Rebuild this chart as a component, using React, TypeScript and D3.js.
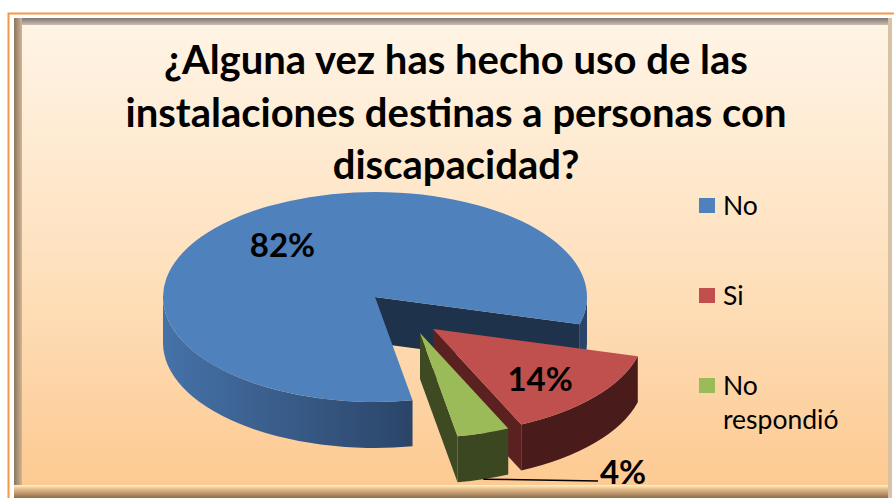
import React from 'react';
import * as d3 from 'd3';

const categories = ['No', 'Si', 'No respondió'];
const values = [82, 14, 4];
const labelTexts = ['82%', '14%', '4%'];
const titleLines = [
  '¿Alguna vez has hecho uso de las',
  'instalaciones destinas a personas con',
  'discapacidad?',
];

const W = 894;
const H = 498;
const CX = 375;
const CY = 297;
const RX = 212;
const RY = 105;
const DEPTH = 46;
const START_DEG = 169.8;
const EXPLODE: [number, number][] = [[0, 0], [58, 32], [45, 36]];
const TOP = ['#4F81BD', '#C0504D', '#9BBB59'];
const FACE = ['#1F324B', '#5A2120', '#3E4A22'];
const SIDE_A = ['#4672A8', '#561F1F', '#4C5C2A'];
const SIDE_B = ['#2B4569', '#4A1B1B', '#3A4720'];
const FONT = 'Lato, "Open Sans", sans-serif';

type P = [number, number];

function pt(c: P, th: number, dy = 0): P {
  return [c[0] + RX * Math.cos(th), c[1] + RY * Math.sin(th) + dy];
}
const f = (p: P) => `${p[0].toFixed(2)},${p[1].toFixed(2)}`;

export default function App() {
  const pie = d3
    .pie<number>()
    .sort(null)
    .startAngle((START_DEG * Math.PI) / 180)
    .endAngle((START_DEG * Math.PI) / 180 + 2 * Math.PI)(values);

  const slices = pie.map((d, i) => {
    const a0 = d.startAngle - Math.PI / 2;
    const a1 = d.endAngle - Math.PI / 2;
    const c: P = [CX + EXPLODE[i][0], CY + EXPLODE[i][1]];
    const large = a1 - a0 > Math.PI ? 1 : 0;
    const top = `M${f(c)}L${f(pt(c, a0))}A${RX},${RY} 0 ${large} 1 ${f(pt(c, a1))}Z`;
    const sides: string[] = [];
    for (let k = -1; k <= 2; k++) {
      const s = Math.max(a0, 2 * Math.PI * k);
      const e = Math.min(a1, 2 * Math.PI * k + Math.PI);
      if (e > s + 1e-6) {
        sides.push(
          `M${f(pt(c, s))}A${RX},${RY} 0 0 1 ${f(pt(c, e))}L${f(pt(c, e, DEPTH))}A${RX},${RY} 0 0 0 ${f(pt(c, s, DEPTH))}Z`
        );
      }
    }
    const faces: string[] = [];
    const cd: P = [c[0], c[1] + DEPTH];
    if (Math.sin(a0 - Math.PI / 2) > 0) {
      faces.push(`M${f(c)}L${f(pt(c, a0))}L${f(pt(c, a0, DEPTH))}L${f(cd)}Z`);
    }
    if (Math.sin(a1 + Math.PI / 2) > 0) {
      faces.push(`M${f(c)}L${f(pt(c, a1))}L${f(pt(c, a1, DEPTH))}L${f(cd)}Z`);
    }
    const mid = (a0 + a1) / 2;
    return { i, c, a0, a1, mid, top, sides, faces };
  });

  const labelPos = (s: typeof slices[number]) => {
    const k = 0.68;
    return [s.c[0] + RX * k * Math.cos(s.mid), s.c[1] + RY * k * Math.sin(s.mid)] as P;
  };

  const green = slices[2];
  const leaderStart = pt(green.c, green.mid, DEPTH);
  const outsideLabel: P = [623, 471];

  const legendY = [198, 288, 378];

  return (
    <svg
      width={W}
      height={H}
      style={{ position: 'absolute', left: 0, top: 0, background: '#fff' }}
    >
      <defs>
        <linearGradient id="bg" x1="0" y1="0" x2="0" y2="1">
          <stop offset="0" stopColor="#FFF4E5" />
          <stop offset="0.5" stopColor="#FEE2C0" />
          <stop offset="1" stopColor="#FDCA92" />
        </linearGradient>
        <linearGradient id="frameTop" x1="0" y1="0" x2="0" y2="1">
          <stop offset="0" stopColor="#7F756D" />
          <stop offset="1" stopColor="#C9BFB3" />
        </linearGradient>
        <linearGradient id="frameLeft" x1="0" y1="0" x2="1" y2="0">
          <stop offset="0" stopColor="#8A7560" />
          <stop offset="1" stopColor="#D2B490" />
        </linearGradient>
        <linearGradient id="frameBottom" x1="0" y1="0" x2="0" y2="1">
          <stop offset="0" stopColor="#FFF2C8" />
          <stop offset="0.3" stopColor="#E8C08C" />
          <stop offset="1" stopColor="#8E6A4C" />
        </linearGradient>
        {slices.map((s) => (
          <linearGradient
            key={s.i}
            id={`side${s.i}`}
            gradientUnits="userSpaceOnUse"
            x1={s.c[0] - RX}
            y1="0"
            x2={s.c[0] + RX * 0.17}
            y2="0"
          >
            <stop offset="0" stopColor={SIDE_A[s.i]} />
            <stop offset="1" stopColor={SIDE_B[s.i]} />
          </linearGradient>
        ))}
      </defs>

      {/* frame */}
      <rect x={8.5} y={13.5} width={W} height={H} fill="none" stroke="#F79646" strokeWidth={2} />
      <rect x={14} y={18} width={878} height={480} fill="#B09A84" />
      <rect x={14} y={18} width={878} height={7} fill="url(#frameTop)" />
      <rect x={14} y={18} width={8} height={480} fill="url(#frameLeft)" />
      <rect x={14} y={485} width={878} height={13} fill="url(#frameBottom)" />
      <rect x={888} y={18} width={4} height={480} fill="#D8C2A6" />
      <rect x={22} y={25} width={866} height={460} fill="url(#bg)" />

      {/* title */}
      <g fontFamily={FONT} fontWeight="bold" fontSize={40} textAnchor="middle" fill="#000">
        {titleLines.map((t, i) => (
          <text key={i} x={456} y={74 + i * 52.5}>
            {t}
          </text>
        ))}
      </g>

      {/* pie */}
      {slices.map((s) => (
        <g key={s.i}>
          {s.faces.map((p, j) => (
            <path key={'f' + j} d={p} fill={FACE[s.i]} />
          ))}
          {s.sides.map((p, j) => (
            <path key={'s' + j} d={p} fill={`url(#side${s.i})`} />
          ))}
          <path d={s.top} fill={TOP[s.i]} />
        </g>
      ))}

      {/* labels */}
      <g fontFamily={FONT} fontWeight="bold" fontSize={33} fill="#000">
        {slices.slice(0, 2).map((s) => {
          const p = labelPos(s);
          return (
            <text key={s.i} x={p[0] + (s.i === 0 ? 5 : -3)} y={p[1] + (s.i === 1 ? 3 : 0)} textAnchor="middle" dominantBaseline="central">
              {labelTexts[s.i]}
            </text>
          );
        })}
        <line
          x1={leaderStart[0]}
          y1={leaderStart[1]}
          x2={outsideLabel[0] - 25}
          y2={outsideLabel[1] + 10}
          stroke="#000"
          strokeWidth={1.5}
        />
        <text x={outsideLabel[0]} y={outsideLabel[1]} textAnchor="middle" dominantBaseline="central">
          {labelTexts[2]}
        </text>
      </g>

      {/* legend */}
      <g fontFamily={FONT} fontSize={26.5} fill="#000">
        {categories.map((c, i) => {
          const words = i === 2 ? ['No', 'respondió'] : [c];
          return (
            <g key={c}>
              <rect x={699} y={legendY[i]} width={16} height={15} fill={TOP[i]} />
              {words.map((w, j) => (
                <text key={j} x={723} y={legendY[i] + 17 + j * 34}>
                  {w}
                </text>
              ))}
            </g>
          );
        })}
      </g>
    </svg>
  );
}
